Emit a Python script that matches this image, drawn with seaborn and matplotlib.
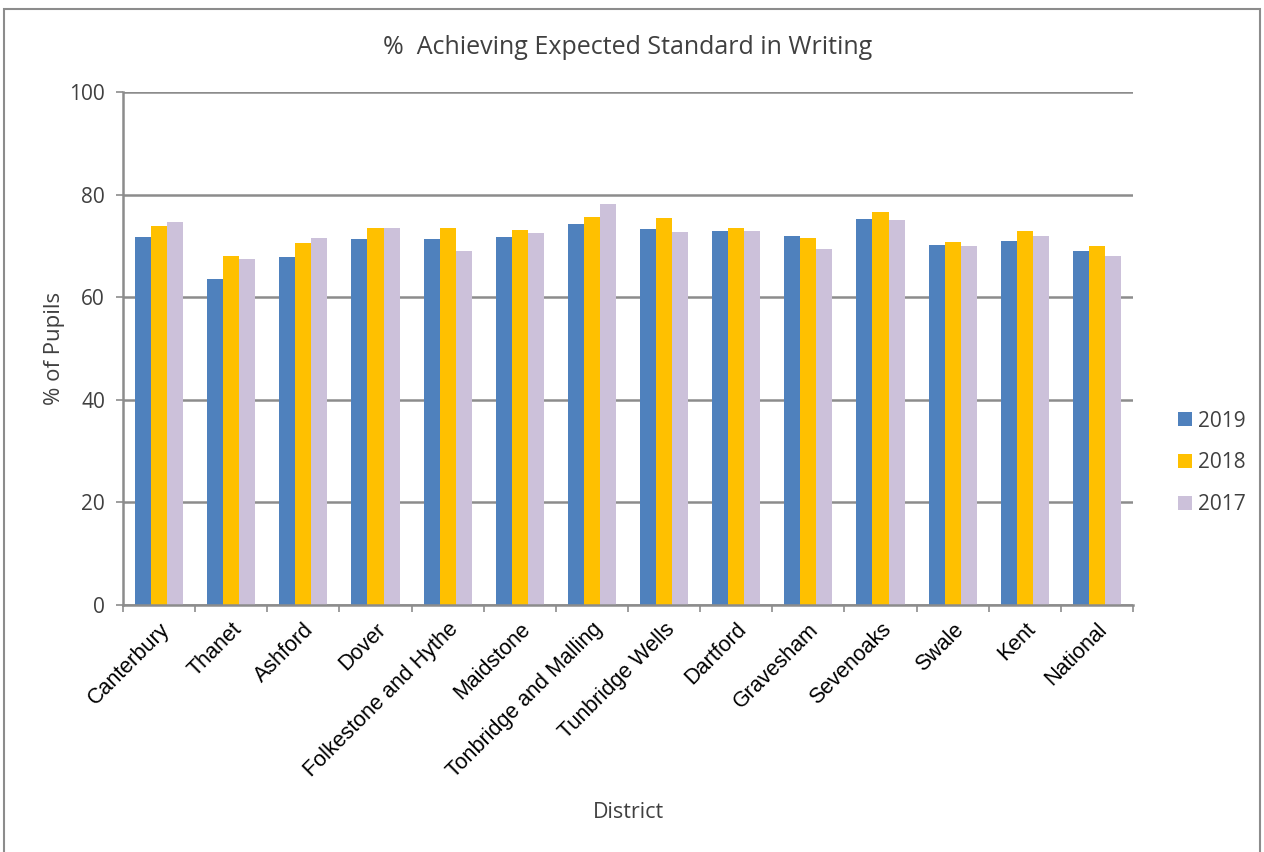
import pandas as pd
import matplotlib.pyplot as plt
import seaborn as sns
from matplotlib.patches import Rectangle
from matplotlib.ticker import FixedLocator

districts = ["Canterbury", "Thanet", "Ashford", "Dover", "Folkestone and Hythe",
             "Maidstone", "Tonbridge and Malling", "Tunbridge Wells", "Dartford",
             "Gravesham", "Sevenoaks", "Swale", "Kent", "National"]
years = ["2019", "2018", "2017"]
pct_2019 = [71.8, 63.5, 67.8, 71.3, 71.3, 71.7, 74.3, 73.3, 72.9, 71.9, 75.2, 70.2, 71.0, 69.0]
pct_2018 = [73.8, 68.1, 70.6, 73.4, 73.5, 73.1, 75.6, 75.4, 73.5, 71.5, 76.7, 70.8, 72.9, 70.0]
pct_2017 = [74.6, 67.5, 71.5, 73.5, 69.1, 72.5, 78.2, 72.7, 72.9, 69.4, 75.0, 69.9, 71.9, 68.0]
palette = {"2019": "#4F81BD", "2018": "#FFC000", "2017": "#CCC1DA"}

df = pd.DataFrame({
    "District": districts * 3,
    "Year": [y for y in years for _ in districts],
    "Pct": pct_2019 + pct_2018 + pct_2017,
})

sns.set_theme(style="white")
plt.rcParams["font.family"] = ["Open Sans", "DejaVu Sans"]
txt = "#404040"

fig = plt.figure(figsize=(12.64, 8.52), dpi=100)
ax = fig.add_axes([123 / 1264, 1 - 605 / 852, 1010 / 1264, 513 / 852])

sns.barplot(data=df, x="District", y="Pct", hue="Year", hue_order=years,
            palette=palette, width=0.667, gap=0, saturation=1,
            edgecolor="none", ax=ax)

ax.set_ylim(0, 100)
ax.set_xlim(-0.5, len(districts) - 0.5)
ax.set_yticks(range(0, 101, 20))
ax.yaxis.grid(True, color="#8c8c8c", lw=1.8)
ax.set_axisbelow(True)
for s in ["top", "right"]:
    ax.spines[s].set_visible(False)
for s in ["left", "bottom"]:
    ax.spines[s].set_color("#8c8c8c")
    ax.spines[s].set_linewidth(1.8)

ax.tick_params(axis="y", left=True, length=5, width=1.2, color="#8c8c8c",
               labelsize=15, labelcolor=txt, pad=8)
ax.tick_params(axis="x", which="major", length=0, pad=10)
ax.xaxis.set_minor_locator(FixedLocator([i + 0.5 for i in range(-1, len(districts))]))
ax.tick_params(axis="x", which="minor", bottom=True, length=5, width=1.2, color="#8c8c8c")
ax.set_xticks(range(len(districts)))
ax.set_xticklabels(districts, rotation=45, ha="right", rotation_mode="anchor",
                   fontsize=15.5, family=["Liberation Sans", "DejaVu Sans"], color="black")

ax.set_xlabel("District", fontsize=15.5, color=txt, labelpad=14)
ax.set_ylabel("% of Pupils", fontsize=16, color=txt, labelpad=3)
ax.set_title("%  Achieving Expected Standard in Writing", fontsize=18, color=txt, pad=27)

ax.legend(loc="center left", bbox_to_anchor=(1.026, 0.277), frameon=False,
          fontsize=15, handlelength=0.65, handleheight=0.65, labelspacing=1.0,
          handletextpad=0.3)
for t in ax.get_legend().get_texts():
    t.set_color(txt)

fig.patches.append(Rectangle((4 / 1264, -0.05), 1256 / 1264, 1.05 - 9 / 852,
                             transform=fig.transFigure, fill=False,
                             edgecolor="#8c8c8c", lw=1.5))

fig.savefig("out.png", dpi=100)
